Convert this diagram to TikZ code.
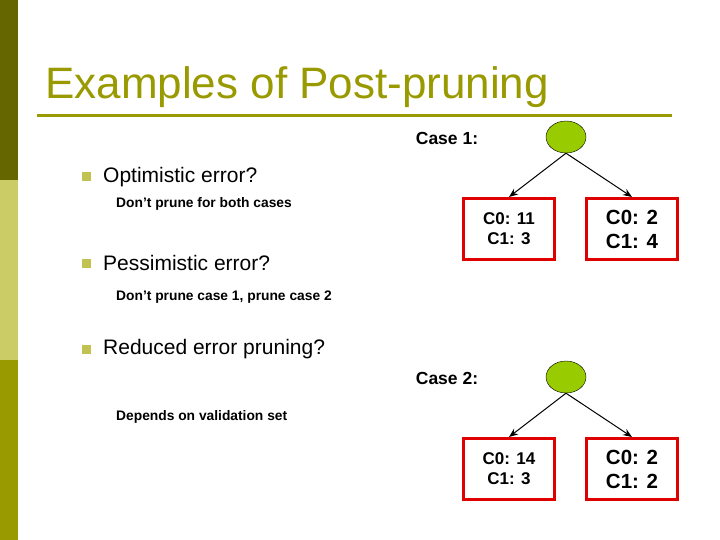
\documentclass[tikz,border=0pt]{standalone}
\usepackage{fontspec}
\setmainfont{Liberation Sans}
\usetikzlibrary{shapes.geometric,arrows.meta}
\definecolor{oliveA}{RGB}{102,102,0}
\definecolor{oliveB}{RGB}{204,204,102}
\definecolor{oliveC}{RGB}{153,153,0}
\definecolor{leaf}{RGB}{153,204,0}
\definecolor{boxred}{RGB}{224,0,0}
\tikzset{
 root/.style={ellipse,draw=black,fill=leaf,minimum width=40pt,minimum height=32pt,inner sep=0pt},
 leafbox/.style={draw=boxred,line width=3pt,minimum width=91pt,minimum height=61pt,align=center,inner sep=0pt},
 arr/.style={-{Stealth[length=9pt,width=7pt]},line width=1pt},
 bul/.style={fill=oliveB!80!oliveC,minimum size=9pt,inner sep=0pt},
 main/.style={anchor=west,inner sep=0pt,font=\fontsize{21}{24}\selectfont},
 sub/.style={anchor=west,inner sep=0pt,font=\fontsize{13.8}{16}\selectfont\bfseries},
 case/.style={font=\fontsize{17.5}{20}\selectfont\bfseries}
}
\begin{document}
\begin{tikzpicture}[x=1pt,y=-1pt]
\useasboundingbox (0,0) rectangle (720,540);
\fill[oliveA] (0,0) rectangle (18,180);
\fill[oliveB] (0,180) rectangle (18,360);
\fill[oliveC] (0,360) rectangle (18,540);
\node[anchor=base west,text=oliveC,font=\fontsize{44}{48}\selectfont,inner sep=0pt] (title) at (45,99) {Examples of Post-pruning};
\draw[oliveC,line width=3pt] (37,116) -- (672,116);
\node[bul] (b1) at (86,177) {};
\node[main] (t1) at (103,177) {Optimistic error?};
\node[sub] (s1) at (116,204) {Don’t prune for both cases};
\node[bul] (b2) at (86,263) {};
\node[main] (t2) at (103,263) {Pessimistic error?};
\node[sub] (s2) at (116,297) {Don’t prune case 1, prune case 2};
\node[bul] (b3) at (86,349) {};
\node[main] (t3) at (103,349) {Reduced error pruning?};
\node[sub] (s3) at (116,417) {Depends on validation set};
\node[case] (c1) at (447,138) {Case 1:};
\node[case] (c2) at (447,378) {Case 2:};
\node[root] (r1) at (566,137) {};
\node[leafbox,font=\fontsize{17}{20}\selectfont\bfseries] (l1) at (509,229) {C0: 11\\C1: 3};
\node[leafbox,font=\fontsize{20.5}{24}\selectfont\bfseries] (m1) at (632,229) {C0: 2\\C1: 4};
\draw[arr] (r1.south) -- (l1.north);
\draw[arr] (r1.south) -- (m1.north);
\node[root] (r2) at (566,377) {};
\node[leafbox,font=\fontsize{17}{20}\selectfont\bfseries] (l2) at (509,469) {C0: 14\\C1: 3};
\node[leafbox,font=\fontsize{20.5}{24}\selectfont\bfseries] (m2) at (632,469) {C0: 2\\C1: 2};
\draw[arr] (r2.south) -- (l2.north);
\draw[arr] (r2.south) -- (m2.north);
\end{tikzpicture}
\end{document}
